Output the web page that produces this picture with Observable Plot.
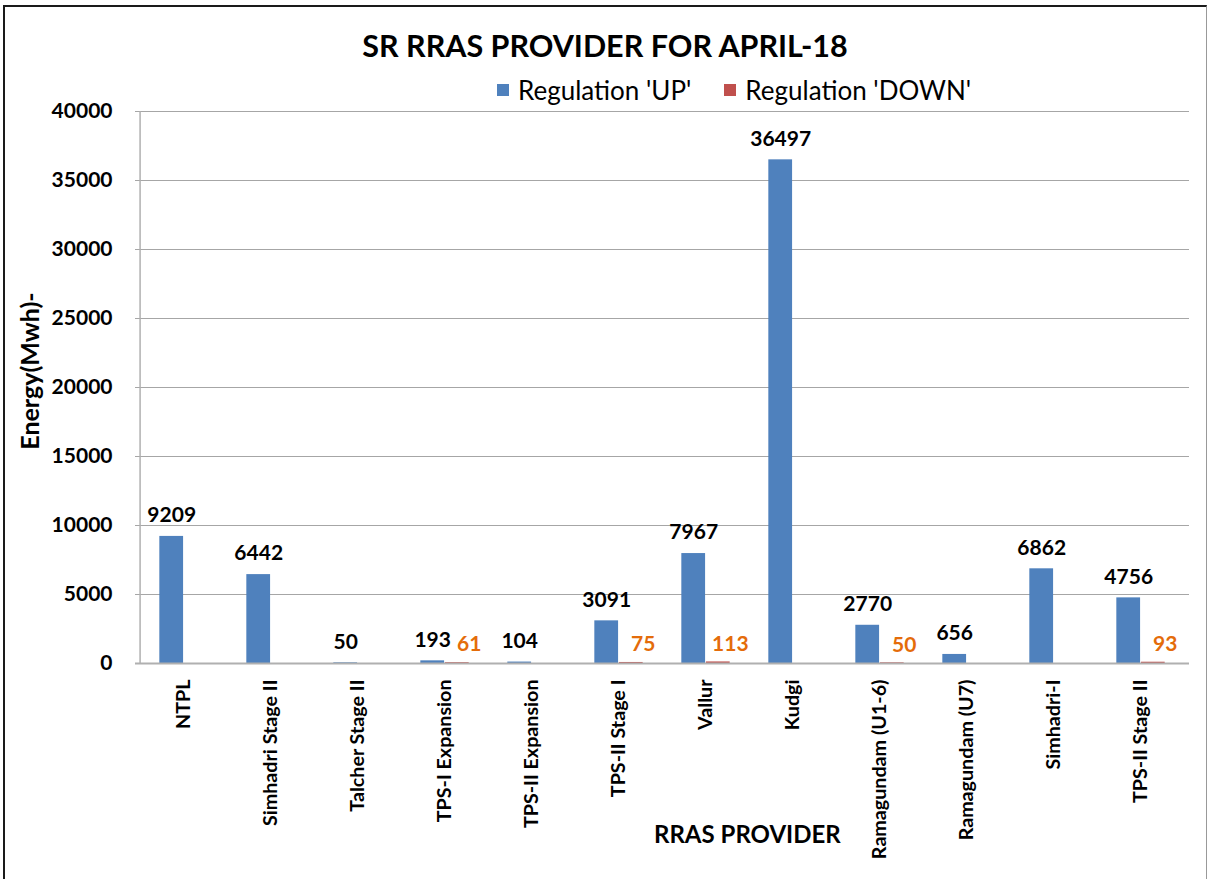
<!DOCTYPE html>
<html><head><meta charset="utf-8">
<script src="https://cdn.jsdelivr.net/npm/d3@7"></script>
<script src="https://cdn.jsdelivr.net/npm/@observablehq/plot@0.6"></script>
<style>
body{margin:0;background:#fff;font-family:Lato,"Open Sans",sans-serif;}
#wrap{position:relative;width:1208px;height:879px;overflow:hidden;background:#fff;}
#box{position:absolute;left:3px;top:5px;width:1201px;height:900px;border-top:2px solid #1a1a1a;border-left:2px solid #1a1a1a;border-right:1px solid #999;box-sizing:content-box;}
#chart{position:absolute;left:0;top:0;}
#title{position:absolute;left:0;width:1210px;top:26px;text-align:center;font-weight:bold;font-size:30.5px;line-height:38px;color:#000;}
#legend{position:absolute;top:75px;left:497px;font-size:26px;line-height:30px;color:#000;display:flex;align-items:center;}
#legend .sw{display:inline-block;width:12px;height:12px;margin-right:9px;}
#legend .it{display:flex;align-items:center;margin-right:33px;}
#xtitle{position:absolute;top:818px;left:654px;font-weight:bold;font-size:24px;line-height:32px;color:#000;white-space:nowrap;}
#ytitle{position:absolute;left:29px;top:371px;transform:translate(-50%,-50%) rotate(-90deg);font-weight:bold;font-size:25px;white-space:nowrap;color:#000;}
</style></head>
<body>
<div id="wrap">
  <div id="chart"></div>
  <div id="box"></div>
  <div id="title"></div>
  <div id="legend"></div>
  <div id="xtitle"></div>
  <div id="ytitle"></div>
</div>
<script>
const categories = ["NTPL","Simhadri Stage II","Talcher Stage II","TPS-I Expansion","TPS-II Expansion","TPS-II Stage I","Vallur","Kudgi","Ramagundam (U1-6)","Ramagundam (U7)","Simhadri-I","TPS-II Stage II"];
const regUp   = [9209,6442,50,193,104,3091,7967,36497,2770,656,6862,4756];
const regDown = [null,null,null,61,null,75,113,null,50,null,null,93];
const seriesNames = ["Regulation 'UP'","Regulation 'DOWN'"];
const seriesColors = ["#4F81BD","#C0504D"];
const yTicks = [0,5000,10000,15000,20000,25000,30000,35000,40000];
const titleText = "SR RRAS PROVIDER FOR APRIL-18";
const xTitle = "RRAS PROVIDER";
const yTitle = "Energy(Mwh)-";

const upData = categories.map((c,i)=>({provider:c, value:regUp[i]}));
const downData = categories.map((c,i)=>({provider:c, value:regDown[i]})).filter(d=>d.value!=null);

const W = 1208, H = 879, mL = 135, mR = 19, mT = 111, mB = 216;
const step = (W - mL - mR) / categories.length;
const barW = step * 0.28;
const gap0 = step * 0.22;

const chart = Plot.plot({
  width: W, height: H,
  marginLeft: mL, marginRight: mR, marginTop: mT, marginBottom: mB,
  style: {fontFamily: "Lato, 'Open Sans', sans-serif", color: "#000", background: "transparent"},
  x: {domain: categories, padding: 0, label: null},
  y: {domain: [0, 40000], label: null},
  marks: [
    Plot.ruleY(yTicks, {stroke: "#a6a6a6", strokeWidth: 1.2}),
    Plot.barY(upData, {x: "provider", y: "value", fill: seriesColors[0], insetLeft: gap0, insetRight: step - gap0 - barW}),
    Plot.barY(downData, {x: "provider", y: "value", fill: seriesColors[1], insetLeft: gap0 + barW, insetRight: step - gap0 - 2*barW}),
    Plot.ruleY([0], {stroke: "#b0b0b0", strokeWidth: 2}),
    Plot.ruleX([categories[0]], {dx: -step/2, stroke: "#b0b0b0", strokeWidth: 1.5}),
    Plot.text(upData, {x: "provider", y: "value", text: d => String(d.value), dx: -(step/2 - gap0 - barW/2), dy: -21, fontSize: 21, fontWeight: "bold", fill: "#000"}),
    Plot.text(downData, {x: "provider", y: "value", text: d => String(d.value), dx: gap0 + 1.5*barW - step/2 + 12, dy: -18, fontSize: 21, fontWeight: "bold", fill: "#E46C0A"}),
    Plot.axisY(yTicks, {tickSize: 0, tickPadding: 23, fontSize: 21, fontWeight: "bold", label: null, tickFormat: d => String(d)}),
    Plot.axisX({tickRotate: -90, tickSize: 0, tickPadding: 16, fontSize: 19.7, fontWeight: "bold", label: null})
  ]
});
document.getElementById("chart").appendChild(chart);
document.getElementById("title").textContent = titleText;
document.getElementById("xtitle").textContent = xTitle;
document.getElementById("ytitle").textContent = yTitle;
const lg = document.getElementById("legend");
seriesNames.forEach((s,i)=>{
  const it = document.createElement("span"); it.className = "it";
  const sw = document.createElement("span"); sw.className = "sw"; sw.style.background = seriesColors[i];
  it.appendChild(sw); it.appendChild(document.createTextNode(s)); lg.appendChild(it);
});
</script>
</body></html>
